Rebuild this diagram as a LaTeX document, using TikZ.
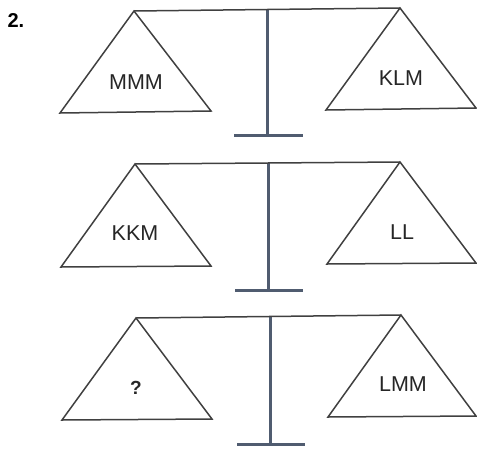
\documentclass[tikz,border=0pt]{standalone}
\usepackage{fontspec}
\setmainfont{Liberation Sans}
\begin{document}
\begin{tikzpicture}[x=1pt,y=-1pt,
  pan/.style={draw=black!75,line width=1.5pt,line join=miter},
  beam/.style={draw=black!75,line width=1.5pt},
  post/.style={draw={rgb,255:red,80;green,92;blue,112},line width=3pt},
  lbl/.style={font=\fontsize{21.5}{24}\selectfont,text=black!85},
  pt/.style={inner sep=0pt,minimum size=0pt}]
\useasboundingbox (0,0) rectangle (477,448);
\node[font=\bfseries\fontsize{20}{24}\selectfont,anchor=west] (num) at (4,21) {2.};
% scale 1
\coordinate (a1) at (134,11); \coordinate (b1) at (400,8);
\coordinate (al1) at (60,113); \coordinate (ar1) at (211,111);
\coordinate (bl1) at (326,110); \coordinate (br1) at (476,108);
\coordinate (p1t) at (267,10); \coordinate (p1b) at (267,135);
\coordinate (f1l) at (234,135); \coordinate (f1r) at (303,135);
\draw[post] (p1t) -- (p1b); \draw[post] (f1l) -- (f1r);
\draw[beam] (a1) -- (b1);
\draw[pan] (a1) -- (al1) -- (ar1) -- cycle;
\draw[pan] (b1) -- (bl1) -- (br1) -- cycle;
\node[lbl] (t1l) at (136,82) {MMM};
\node[lbl] (t1r) at (401,78) {KLM};
% scale 2
\coordinate (a2) at (135,164); \coordinate (b2) at (400,162);
\coordinate (al2) at (61,267); \coordinate (ar2) at (211,266);
\coordinate (bl2) at (327,264); \coordinate (br2) at (476,263);
\coordinate (p2t) at (268,163); \coordinate (p2b) at (268,290);
\coordinate (f2l) at (235,290); \coordinate (f2r) at (303,290);
\draw[post] (p2t) -- (p2b); \draw[post] (f2l) -- (f2r);
\draw[beam] (a2) -- (b2);
\draw[pan] (a2) -- (al2) -- (ar2) -- cycle;
\draw[pan] (b2) -- (bl2) -- (br2) -- cycle;
\node[lbl] (t2l) at (135,233) {KKM};
\node[lbl] (t2r) at (402,232) {LL};
% scale 3
\coordinate (a3) at (136,318); \coordinate (b3) at (401,315);
\coordinate (al3) at (62,420); \coordinate (ar3) at (212,419);
\coordinate (bl3) at (328,417); \coordinate (br3) at (476,416);
\coordinate (p3t) at (270,316); \coordinate (p3b) at (270,444);
\coordinate (f3l) at (237,444); \coordinate (f3r) at (305,444);
\draw[post] (p3t) -- (p3b); \draw[post] (f3l) -- (f3r);
\draw[beam] (a3) -- (b3);
\draw[pan] (a3) -- (al3) -- (ar3) -- cycle;
\draw[pan] (b3) -- (bl3) -- (br3) -- cycle;
\node[lbl,font=\bfseries\fontsize{19}{22}\selectfont] (t3l) at (136,388) {?};
\node[lbl] (t3r) at (403,384) {LMM};
\end{tikzpicture}
\end{document}
